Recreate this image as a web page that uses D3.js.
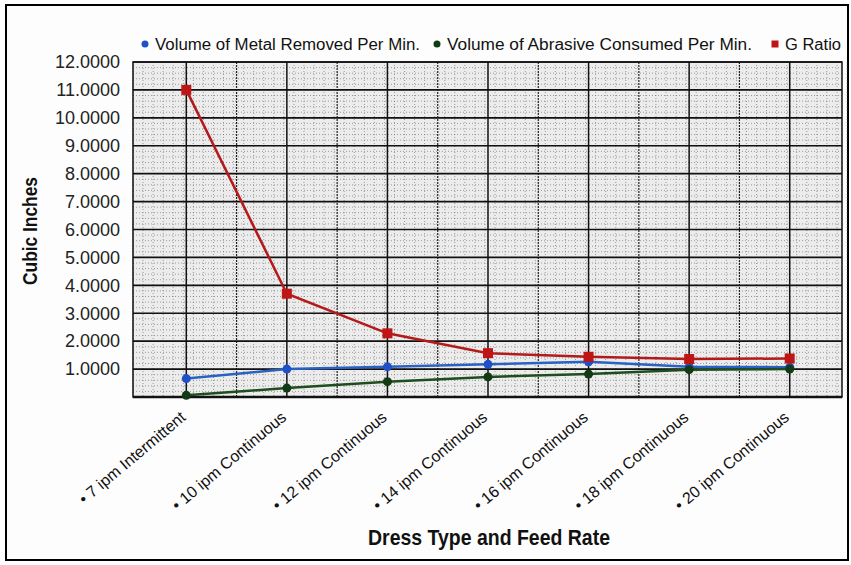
<!DOCTYPE html>
<html><head><meta charset="utf-8">
<script src="https://cdn.jsdelivr.net/npm/d3@7/dist/d3.min.js"></script>
<style>
body{margin:0;background:#fff;}
text{font-family:"Liberation Sans",Arial,sans-serif;}
</style></head>
<body><svg id="c" width="851" height="565"></svg>
<script>
const categories = ["7 ipm Intermittent","10 ipm Continuous","12 ipm Continuous","14 ipm Continuous","16 ipm Continuous","18 ipm Continuous","20 ipm Continuous"];
const metalRemoved = [0.66, 1.00, 1.08, 1.17, 1.26, 1.08, 1.07];
const abrasiveConsumed = [0.06, 0.32, 0.55, 0.72, 0.82, 0.98, 1.00];
const gRatio = [11.00, 3.70, 2.28, 1.57, 1.44, 1.36, 1.38];
const seriesNames = ["Volume of Metal Removed Per Min.","Volume of Abrasive Consumed Per Min.","G Ratio"];
const yTicks = [1,2,3,4,5,6,7,8,9,10,11,12];

const svg = d3.select("#c");
const L=133, R=842, T=62, B=397;

svg.append("rect").attr("x",6).attr("y",5).attr("width",842).attr("height",555)
  .attr("fill","#fdfdfd").attr("stroke","#000").attr("stroke-width",2);

const x = d3.scalePoint().domain(categories).range([L+3,R-2]).padding(0.5);
const y = d3.scaleLinear().domain([0,12]).range([B,T]);

svg.append("rect").attr("x",L).attr("y",T).attr("width",R-L).attr("height",B-T).attr("fill","#ececec");

const g = svg.append("g");
const minorY = d3.range(0,12.01,0.2);
g.selectAll(".my").data(minorY).join("line")
  .attr("x1",L).attr("x2",R).attr("y1",d=>y(d)).attr("y2",d=>y(d))
  .attr("stroke","#666").attr("stroke-width",1).attr("stroke-dasharray","1,2").attr("opacity",0.6);
const step = x.step();
const minorX = d3.range(0, (R-L)/(step/10) + 1).map(i=>L + i*step/10);
g.selectAll(".mx").data(minorX).join("line")
  .attr("x1",d=>d).attr("x2",d=>d).attr("y1",T).attr("y2",B)
  .attr("stroke","#666").attr("stroke-width",1).attr("stroke-dasharray","1,2").attr("opacity",0.6);
const halfX = categories.map(c=>x(c)+step/2).slice(0,-1);
g.selectAll(".hx").data(halfX).join("line")
  .attr("x1",d=>d).attr("x2",d=>d).attr("y1",T).attr("y2",B)
  .attr("stroke","#222").attr("stroke-width",1.2).attr("stroke-dasharray","2,1");
g.selectAll(".cx").data(categories).join("line")
  .attr("x1",d=>x(d)).attr("x2",d=>x(d)).attr("y1",T).attr("y2",B)
  .attr("stroke","#111").attr("stroke-width",1.5);
g.selectAll(".hy").data(yTicks).join("line")
  .attr("x1",L).attr("x2",R).attr("y1",d=>y(d)).attr("y2",d=>y(d))
  .attr("stroke","#111").attr("stroke-width",1.6);
svg.append("rect").attr("x",L).attr("y",T).attr("width",R-L).attr("height",B-T)
  .attr("fill","none").attr("stroke","#111").attr("stroke-width",1.5);
svg.append("line").attr("x1",L).attr("x2",R).attr("y1",B).attr("y2",B).attr("stroke","#111").attr("stroke-width",2.5);

// y axis labels
const yAxis = d3.axisLeft(y).tickValues(yTicks).tickFormat(d3.format(".4f")).tickSize(0).tickPadding(13);
const ya = svg.append("g").attr("transform",`translate(${L},0)`).call(yAxis);
ya.select(".domain").remove();
ya.selectAll("text").attr("font-size",18).attr("fill","#222")
  .style("font-family",'"Liberation Sans",Arial,sans-serif');

// x axis labels
const xAxis = d3.axisBottom(x).tickSize(0).tickFormat(d=>"• "+d);
const xa = svg.append("g").attr("transform",`translate(0,${B})`).call(xAxis);
xa.select(".domain").remove();
xa.selectAll("text").attr("font-size",16).attr("fill","#111")
  .attr("text-anchor","end").attr("dy",null).attr("y",0)
  .attr("transform","translate(0,22) rotate(-40)")
  .style("font-family",'"Liberation Sans",Arial,sans-serif');

// axis titles
svg.append("text").attr("x",489).attr("y",545).attr("text-anchor","middle")
  .attr("font-size",22).attr("font-weight","bold").attr("fill","#111")
  .attr("textLength",242).attr("lengthAdjust","spacingAndGlyphs").text("Dress Type and Feed Rate");
svg.append("text").attr("transform","translate(37,231) rotate(-90)").attr("text-anchor","middle")
  .attr("font-size",20).attr("font-weight","bold").attr("fill","#111")
  .attr("textLength",108).attr("lengthAdjust","spacingAndGlyphs").text("Cubic Inches");

// series
const series = [
  {name:seriesNames[0], vals:metalRemoved, color:"#2050c8", line:"#2a62c4", shape:"circle", w:265},
  {name:seriesNames[1], vals:abrasiveConsumed, color:"#123a14", line:"#1e4d1e", shape:"circle", w:305},
  {name:seriesNames[2], vals:gRatio, color:"#c01515", line:"#b51a1a", shape:"square", w:56}
];
const line = d3.line().x((d,i)=>x(categories[i])).y(d=>y(d));
series.forEach(s=>{
  svg.append("path").datum(s.vals).attr("d",line).attr("fill","none")
    .attr("stroke",s.line).attr("stroke-width",2.5);
  const m = svg.append("g");
  if(s.shape==="circle"){
    m.selectAll("circle").data(s.vals).join("circle")
      .attr("cx",(d,i)=>x(categories[i])).attr("cy",d=>y(d)).attr("r",4.5).attr("fill",s.color);
  } else {
    m.selectAll("rect").data(s.vals).join("rect")
      .attr("x",(d,i)=>x(categories[i])-5).attr("y",d=>y(d)-5).attr("width",10).attr("height",10).attr("fill",s.color);
  }
});

// legend
const legX = [145, 437, 775];
const leg = svg.append("g");
series.forEach((s,i)=>{
  const lg = leg.append("g").attr("transform",`translate(${legX[i]},44)`);
  if(s.shape==="circle") lg.append("circle").attr("r",3.5).attr("fill",s.color);
  else lg.append("rect").attr("x",-3.5).attr("y",-3.5).attr("width",7).attr("height",7).attr("fill",s.color);
  lg.append("text").attr("x",10).attr("y",6).attr("font-size",16).attr("fill","#111")
    .attr("textLength",s.w).attr("lengthAdjust","spacingAndGlyphs").text(s.name);
});
</script></body></html>
